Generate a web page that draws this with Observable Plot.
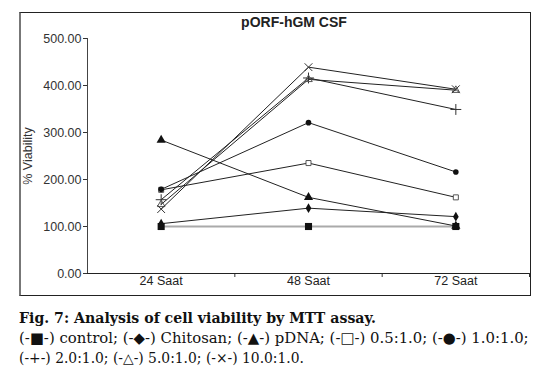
<!DOCTYPE html>
<html>
<head>
<meta charset="utf-8">
<script src="https://cdn.jsdelivr.net/npm/d3@7"></script>
<script src="https://cdn.jsdelivr.net/npm/@observablehq/plot@0.6"></script>
<style>
  html, body { margin: 0; padding: 0; background: #fff; }
  #wrap { position: relative; width: 536px; height: 367px; overflow: hidden; }
  #box { position: absolute; left: 19px; top: 12px; width: 512px; height: 284px;
         border: 1px solid #222; border-left: 2px solid #777; box-sizing: border-box; pointer-events: none; }
  #chart { position: absolute; left: 0; top: 0; }
  #title { position: absolute; top: 14px; left: 194px; width: 200px; text-align: center;
           font: bold 14px "Liberation Sans", Arial, sans-serif; color: #222; }
  #caption { position: absolute; left: 19px; top: 308px; font-family: "DejaVu Serif", serif;
             color: #111; font-size: 15px; line-height: 20px; white-space: nowrap; }
  #caption div { display: block; width: max-content; }
  #caption .l1 { font-weight: bold; }
</style>
</head>
<body>
<div id="wrap">
  <div id="chart"></div>
  <div id="box"></div>
  <div id="title">pORF-hGM CSF</div>
  <div id="caption">
    <div class="l1" data-w="357">Fig. 7: Analysis of cell viability by MTT assay.</div>
    <div data-w="510">(-■-) control; (-◆-) Chitosan; (-▲-) pDNA; (-□-) 0.5:1.0; (-●-) 1.0:1.0;</div>
    <div data-w="285">(-+-) 2.0:1.0; (-△-) 5.0:1.0; (-×-) 10.0:1.0.</div>
  </div>
</div>
<script>
const times = ["24 Saat", "48 Saat", "72 Saat"];
const yTicks = [0, 100, 200, 300, 400, 500];
const control  = [100, 100, 100];
const chitosan = [106, 139, 121];
const pDNA     = [284, 162, 101];
const r05      = [178, 235, 162];
const r10      = [179, 321, 216];
const r20      = [157, 416, 349];
const r50      = [147, 413, 390];
const r100     = [137, 439, 392];

const series = [
  {name: "pDNA", values: pDNA, symbol: "triangle", r: 3.4, fill: "#111", stroke: "none"},
  {name: "Chitosan", values: chitosan, symbol: "diamond", r: 3.0, fill: "#111", stroke: "none"},
  {name: "0.5:1.0", values: r05, symbol: "square2", r: 3.2, fill: "#fff", stroke: "#555"},
  {name: "1.0:1.0", values: r10, symbol: "circle", r: 2.8, fill: "#111", stroke: "none"},
  {name: "2.0:1.0", values: r20, symbol: "plus", r: 3.6, fill: "none", stroke: "#333"},
  {name: "5.0:1.0", values: r50, symbol: "triangle2", r: 3.6, fill: "none", stroke: "#555"},
  {name: "10.0:1.0", values: r100, symbol: "times", r: 3.6, fill: "none", stroke: "#333"}
];

const toRows = s => s.values.map((v, i) => ({x: i + 0.5, y: v, name: s.name}));
const ctrlRows = control.map((v, i) => ({x: i + 0.5, y: v}));

const marks = [
  Plot.axisY({ticks: yTicks, tickFormat: d => d.toFixed(2), tickSize: 4, tickPadding: 2, fontSize: 12.5,
              label: "% Viability", labelAnchor: "center", labelArrow: "none", labelOffset: 64, stroke: "#333", fill: "#333"}),
  Plot.axisX({ticks: [1, 2, 3], tickSize: 4, tickFormat: () => "", label: null, stroke: "#333"}),
  Plot.ruleY([0], {x1: 0, x2: 3, stroke: "#222"}),
  Plot.ruleX([0], {y1: 0, y2: 500, stroke: "#444"}),
  Plot.text(times, {x: (d, i) => i + 0.5, text: d => d, frameAnchor: "bottom", dy: 11, fill: "#222", fontSize: 12.5}),
  Plot.line(ctrlRows, {x: "x", y: "y", stroke: "#aaa", strokeWidth: 2})
];
for (const s of series) {
  marks.push(Plot.line(toRows(s), {x: "x", y: "y", stroke: "#222", strokeWidth: 1}));
}
for (const s of series) {
  marks.push(Plot.dot(toRows(s), {x: "x", y: "y", symbol: s.symbol, r: s.r, fill: s.fill, stroke: s.stroke, strokeWidth: 1}));
}
marks.push(Plot.dot(ctrlRows, {x: "x", y: "y", symbol: "square", r: 4, fill: "#111"}));

const chart = Plot.plot({
  width: 536, height: 300,
  marginLeft: 87, marginRight: 7, marginTop: 38, marginBottom: 27,
  x: {domain: [0, 3]},
  y: {domain: [0, 500]},
  style: {fontFamily: "'Liberation Sans', Arial, sans-serif", fontSize: "12px", color: "#333", background: "transparent"},
  marks
});
document.getElementById("chart").appendChild(chart);

// fit each caption line to the reference line width
document.querySelectorAll("#caption div").forEach(el => {
  const target = +el.dataset.w;
  const w = el.getBoundingClientRect().width;
  const fs = parseFloat(getComputedStyle(el).fontSize);
  el.style.fontSize = (fs * target / w).toFixed(2) + "px";
});
</script>
</body>
</html>
